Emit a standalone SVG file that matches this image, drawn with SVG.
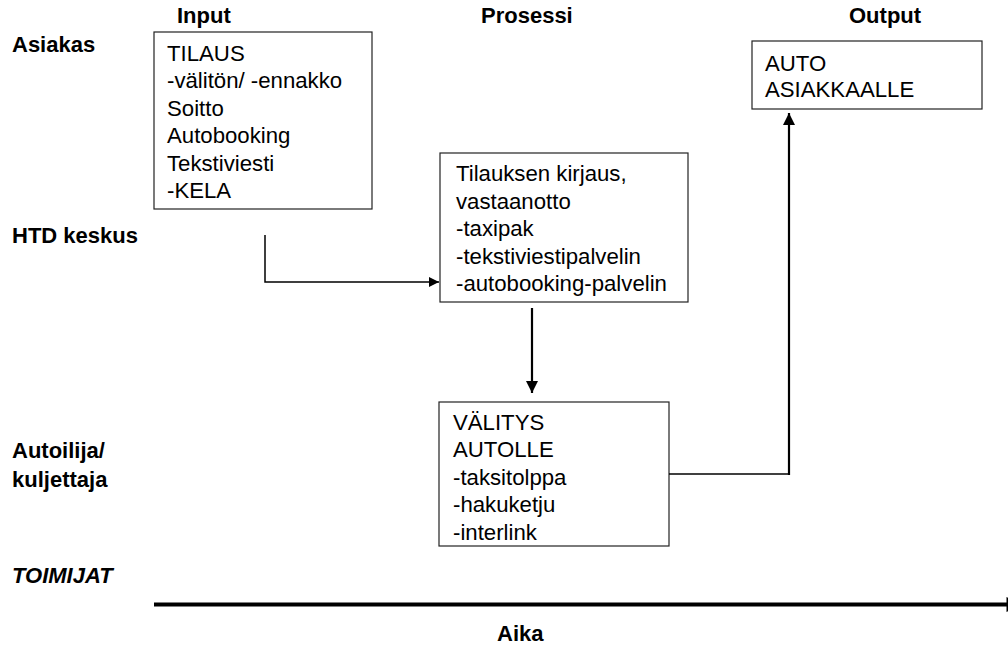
<svg xmlns="http://www.w3.org/2000/svg" width="1008" height="649" viewBox="0 0 1008 649">
  <style>
    .box { fill: #ffffff; stroke: #222222; stroke-width: 1.2; }
    .txt { font-family: "Liberation Sans", Arial, sans-serif; font-size: 22.2px; fill: #000000; }
    .hdr { font-family: "Liberation Sans", Arial, sans-serif; font-size: 22px; font-weight: bold; fill: #000000; }
    .lane { font-family: "Liberation Sans", Arial, sans-serif; font-size: 22px; font-weight: bold; fill: #000000; }
    .thin { fill: none; stroke: #000000; stroke-width: 1.5; }
    .thick { fill: none; stroke: #000000; stroke-width: 2.2; }
  </style>
  <defs>
    <marker id="head" viewBox="0 0 10 10" refX="10" refY="5" markerWidth="12" markerHeight="10" markerUnits="userSpaceOnUse" orient="auto">
      <path d="M0,0 L10,5 L0,10 Z" fill="#000000"/>
    </marker>
    <marker id="headLarge" viewBox="0 0 10 10" refX="10" refY="5" markerWidth="13" markerHeight="12" markerUnits="userSpaceOnUse" orient="auto">
      <path d="M0,0 L10,5 L0,10 Z" fill="#000000"/>
    </marker>
  </defs>

  <rect width="1008" height="649" fill="#ffffff"/>

  <!-- column headings -->
  <g id="headings">
    <text class="hdr" x="177" y="23">Input</text>
    <text class="hdr" x="481" y="23">Prosessi</text>
    <text class="hdr" x="849" y="23">Output</text>
  </g>

  <!-- actor lanes -->
  <g id="lanes">
    <text class="lane" x="12" y="52">Asiakas</text>
    <text class="lane" x="12" y="243">HTD keskus</text>
    <text class="lane" x="12" y="458">Autoilija/</text>
    <text class="lane" x="12" y="487">kuljettaja</text>
    <text class="lane" x="12" y="583" font-style="italic">TOIMIJAT</text>
  </g>

  <!-- nodes -->
  <g id="input">
    <rect class="box" x="154" y="32" width="218" height="177"/>
    <text class="txt" x="167" y="61">TILAUS</text>
    <text class="txt" x="167" y="88.4">-välitön/ -ennakko</text>
    <text class="txt" x="167" y="115.8">Soitto</text>
    <text class="txt" x="167" y="143.2">Autobooking</text>
    <text class="txt" x="167" y="170.6">Tekstiviesti</text>
    <text class="txt" x="167" y="198">-KELA</text>
  </g>

  <g id="process">
    <rect class="box" x="440" y="153" width="248" height="149"/>
    <text class="txt" x="456" y="181">Tilauksen kirjaus,</text>
    <text class="txt" x="456" y="208.5">vastaanotto</text>
    <text class="txt" x="456" y="236">-taxipak</text>
    <text class="txt" x="456" y="263.5">-tekstiviestipalvelin</text>
    <text class="txt" x="456" y="291">-autobooking-palvelin</text>
  </g>

  <g id="dispatch">
    <rect class="box" x="439" y="402" width="230" height="144"/>
    <text class="txt" x="453" y="430">VÄLITYS</text>
    <text class="txt" x="453" y="457.4">AUTOLLE</text>
    <text class="txt" x="453" y="484.8">-taksitolppa</text>
    <text class="txt" x="453" y="512.2">-hakuketju</text>
    <text class="txt" x="453" y="539.6">-interlink</text>
  </g>

  <g id="output">
    <rect class="box" x="752" y="41" width="230" height="68"/>
    <text class="txt" x="765" y="71">AUTO</text>
    <text class="txt" x="765" y="97">ASIAKKAALLE</text>
  </g>

  <!-- connectors -->
  <g id="connectors">
    <path class="thin" d="M265,235 V282 H439" marker-end="url(#head)"/>
    <path class="thick" d="M532,308 V393" marker-end="url(#headLarge)"/>
    <path class="thin" d="M669,474 H789"/>
    <path class="thick" d="M789,475 V113" marker-end="url(#headLarge)"/>
  </g>

  <!-- time axis -->
  <g id="axis">
    <line x1="154" y1="604.5" x2="1007" y2="604.5" stroke="#000000" stroke-width="4"/>
    <path d="M1006.5,597 L1022,604.5 L1006.5,612 Z" fill="#000000"/>
    <text class="hdr" x="497" y="641">Aika</text>
  </g>
</svg>
